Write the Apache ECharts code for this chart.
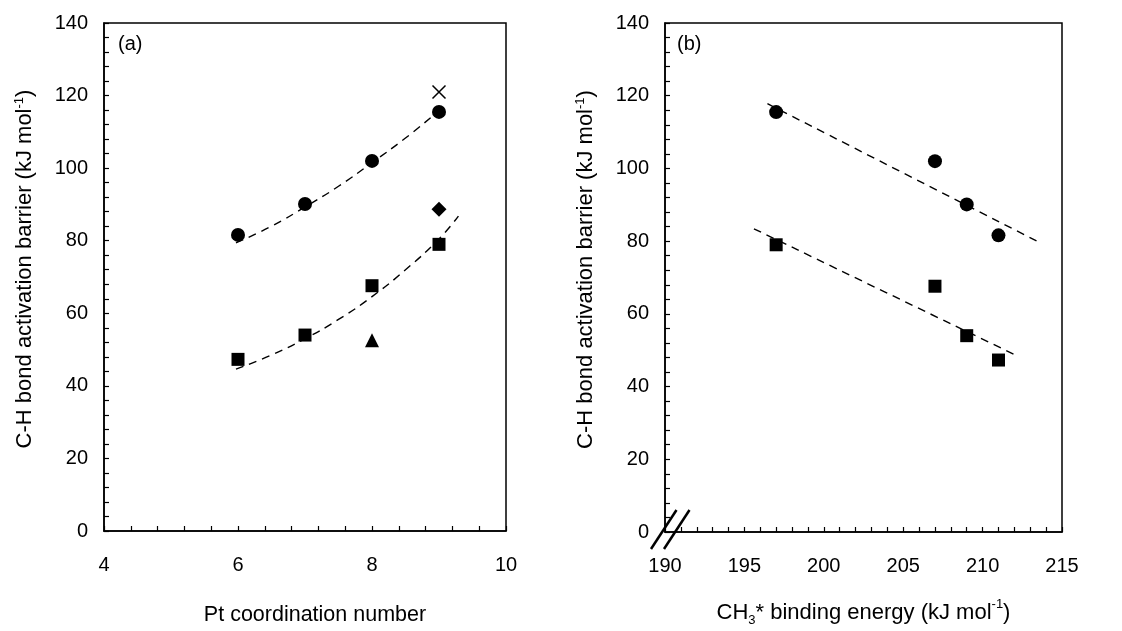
<!DOCTYPE html>
<html>
<head>
<meta charset="utf-8">
<script src="https://cdn.jsdelivr.net/npm/echarts@6/dist/echarts.min.js"></script>
<style>
  html, body { margin: 0; padding: 0; background: #fff; }
  #chart { width: 1122px; height: 631px; }
</style>
</head>
<body>
<div id="chart"></div>
<script>
// Pt coordination number of each site and the CH3* binding energy there (kJ/mol)
const coordination = [6, 7, 8, 9];
const bindingEnergy = [211, 209, 207, 197];
// C-H activation barriers (kJ/mol): circles and squares
const barrierCircle = [81.6, 90.1, 102.0, 115.5];
const barrierSquare = [47.3, 54.0, 67.6, 79.0];
// single extra points in panel (a)
const trianglePoint = [[8, 52.6]];
const diamondPoint = [[9, 88.7]];
const crossPoint = [[9, 121.0]];
// dashed trend curves
const fitCircleA = [[5.97, 79.4], [6.5, 84.0], [7, 89.3], [7.5, 95.0], [8, 101.5], [8.5, 108.3], [8.92, 114.6]];
const fitSquareA = [[5.97, 44.6], [6.5, 48.5], [7, 53.0], [7.5, 58.3], [8, 64.6], [8.5, 72.0], [9, 80.5], [9.29, 86.8]];
const fitCircleB = [[196.45, 117.8], [213.6, 79.6]];
const fitSquareB = [[195.6, 83.4], [212.06, 48.7]];
// axis ranges and tick spacing
const xTicksA = { min: 4, max: 10, interval: 2 };
const xTicksB = { min: 190, max: 215, interval: 5 };
const yTicks = { min: 0, max: 140, interval: 20 };

const FONT = 'Liberation Sans, Arial, sans-serif';
const FS = 20;      // tick labels and panel tags
const FS_NAME = 22; // axis titles

const zip = (xs, ys) => xs.map((x, i) => [x, ys[i]]);

const richParts = {
  sup: { fontSize: 13, verticalAlign: 'top', padding: [0, 0, 11, 0], fontFamily: FONT, color: '#000' },
  sub: { fontSize: 13, padding: [16, 0, 0, 0], fontFamily: FONT, color: '#000' }
};

function xAxis(gridIndex, ticks, name, namePadding, nameSize, nameGap) {
  return {
    type: 'value', gridIndex,
    min: ticks.min, max: ticks.max, interval: ticks.interval,
    name, nameLocation: 'middle', nameGap,
    nameTextStyle: { fontFamily: FONT, fontSize: nameSize, color: '#000', padding: namePadding, rich: richParts },
    axisLine: { show: true, onZero: false, lineStyle: { color: '#000', width: 1.5 } },
    axisTick: { show: true, inside: true, length: 5, lineStyle: { color: '#000', width: 1.2 } },
    minorTick: { show: true, splitNumber: 5, length: 5, lineStyle: { color: '#000', width: 1.2 } },
    splitLine: { show: false },
    axisLabel: { fontFamily: FONT, fontSize: FS, color: '#000', margin: 24 }
  };
}

function yAxis(gridIndex) {
  return {
    type: 'value', gridIndex,
    min: yTicks.min, max: yTicks.max, interval: yTicks.interval,
    name: 'C-H bond activation barrier (kJ mol{sup|-1})',
    nameLocation: 'middle', nameGap: 67, nameRotate: 90,
    nameTextStyle: { fontFamily: FONT, fontSize: FS_NAME, color: '#000', padding: [0, 0, 0, 16], rich: richParts },
    axisLine: { show: true, onZero: false, lineStyle: { color: '#000', width: 1.5 } },
    axisTick: { show: true, inside: true, length: 5, lineStyle: { color: '#000', width: 1.2 } },
    minorTick: { show: true, splitNumber: 5, length: 5, lineStyle: { color: '#000', width: 1.2 } },
    splitLine: { show: false },
    axisLabel: { fontFamily: FONT, fontSize: FS, color: '#000', margin: 16 }
  };
}

function scatter(xi, data, symbol, size, style) {
  return {
    type: 'scatter', xAxisIndex: xi, yAxisIndex: xi, data,
    symbol, symbolSize: size, z: 5,
    itemStyle: Object.assign({ color: '#000', opacity: 1 }, style || {}),
    emphasis: { disabled: true }
  };
}

function dashed(xi, data) {
  return {
    type: 'line', xAxisIndex: xi, yAxisIndex: xi, data,
    smooth: true, showSymbol: false, symbol: 'none', z: 3,
    lineStyle: { color: '#000', width: 1.4, type: [8, 6] },
    emphasis: { disabled: true }
  };
}

const crossSymbol = 'path://M0,0L10,10M10,0L0,10';

const gridBase = { top: 23, show: true, borderColor: '#000', borderWidth: 1.5, containLabel: false, outerBoundsMode: 'none' };

const option = {
  animation: false,
  backgroundColor: '#fff',
  grid: [
    Object.assign({ left: 104, width: 402, height: 508 }, gridBase),
    Object.assign({ left: 665, width: 397, height: 509 }, gridBase)
  ],
  xAxis: [
    xAxis(0, xTicksA, 'Pt coordination number', [0, 0, 0, 20], 21.5, 73),
    xAxis(1, xTicksB, 'CH{sub|3}* binding energy (kJ mol{sup|-1})', [0, 0, 0, 0], FS_NAME, 66)
  ],
  yAxis: [yAxis(0), yAxis(1)],
  series: [
    dashed(0, fitCircleA),
    dashed(0, fitSquareA),
    scatter(0, zip(coordination, barrierCircle), 'circle', 14),
    scatter(0, zip(coordination, barrierSquare), 'rect', 13),
    scatter(0, trianglePoint, 'triangle', 14),
    scatter(0, diamondPoint, 'diamond', 15),
    scatter(0, crossPoint, crossSymbol, 13, { color: 'none', borderColor: '#000', borderWidth: 1.5 }),
    dashed(1, fitCircleB),
    dashed(1, fitSquareB),
    scatter(1, zip(bindingEnergy, barrierCircle), 'circle', 14),
    scatter(1, zip(bindingEnergy, barrierSquare), 'rect', 13)
  ]
};

const chart = echarts.init(document.getElementById('chart'), null, { renderer: 'canvas' });
chart.setOption(option);

// panel tags and the axis-break marks at the origin of panel (b)
const a0 = chart.convertToPixel({ gridIndex: 0 }, [xTicksA.min, yTicks.max]);
const b0 = chart.convertToPixel({ gridIndex: 1 }, [xTicksB.min, yTicks.max]);
const o1 = chart.convertToPixel({ gridIndex: 1 }, [xTicksB.min, yTicks.min]);
const tagStyle = { fill: '#000', font: FS + 'px ' + FONT, textVerticalAlign: 'middle' };
chart.setOption({
  graphic: [
    { type: 'text', x: a0[0] + 14, y: a0[1] + 21, style: Object.assign({ text: '(a)' }, tagStyle), z: 10 },
    { type: 'text', x: b0[0] + 12, y: b0[1] + 21, style: Object.assign({ text: '(b)' }, tagStyle), z: 10 },
    { type: 'line', shape: { x1: o1[0] - 14, y1: o1[1] + 17, x2: o1[0] + 11.5, y2: o1[1] - 22 },
      style: { stroke: '#000', lineWidth: 2.5 }, z: 10 },
    { type: 'line', shape: { x1: o1[0] - 1, y1: o1[1] + 17, x2: o1[0] + 24.5, y2: o1[1] - 22 },
      style: { stroke: '#000', lineWidth: 2.5 }, z: 10 }
  ]
});
</script>
</body>
</html>
